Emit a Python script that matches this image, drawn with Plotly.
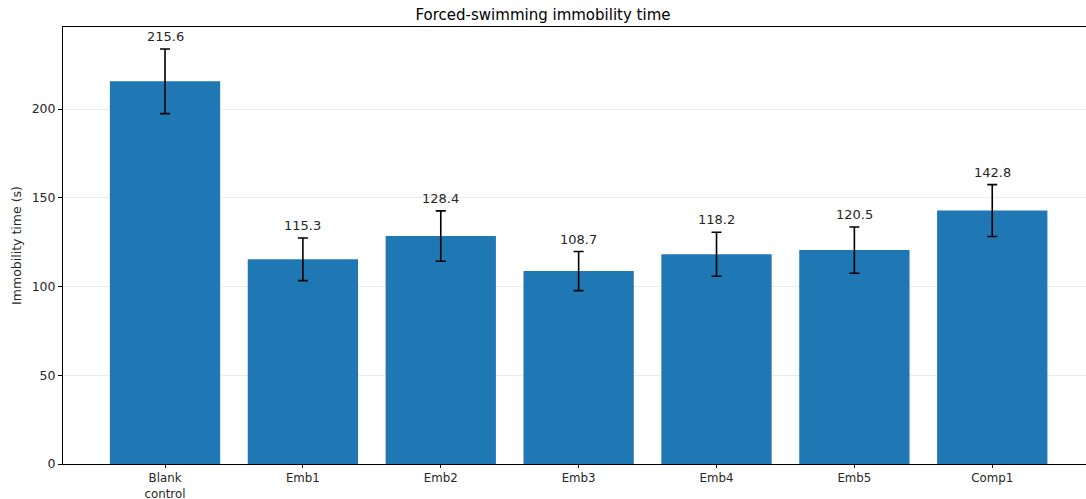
import plotly.graph_objects as go

categories = ["Blank<br>control", "Emb1", "Emb2", "Emb3", "Emb4", "Emb5", "Comp1"]
means = [215.6, 115.3, 128.4, 108.7, 118.2, 120.5, 142.8]
errors = [18.2, 12.0, 14.2, 11.0, 12.4, 13.0, 14.6]
labels = ["215.6", "115.3", "128.4", "108.7", "118.2", "120.5", "142.8"]
yticks = [0, 50, 100, 150, 200]

xpos = list(range(len(categories)))
FONT = "DejaVu Sans"

fig = go.Figure()
fig.add_trace(go.Bar(
    x=xpos, y=means, width=0.8,
    marker=dict(color="#1f77b4", line=dict(width=0)),
    error_y=dict(type="data", array=errors, visible=True, color="black",
                 thickness=1.6, width=5),
    showlegend=False,
))

for x, m, e, t in zip(xpos, means, errors, labels):
    fig.add_annotation(x=x, y=m + e, text=t, showarrow=False,
                       yanchor="bottom", yshift=3,
                       font=dict(family=FONT, size=13, color="#262626"))

fig.update_layout(
    width=1086, height=499,
    margin=dict(l=63, r=0, t=27, b=35, autoexpand=False),
    paper_bgcolor="white", plot_bgcolor="white",
    font=dict(family=FONT, size=12, color="#262626"),
    title=dict(text="Forced-swimming immobility time", x=0.5, xanchor="center",
               y=1 - 15 / 499, yanchor="middle",
               font=dict(family=FONT, size=15, color="black")),
)
fig.update_xaxes(
    range=[-0.74, 6.68], tickmode="array", tickvals=xpos, ticktext=categories,
    showgrid=False, showline=True, linecolor="black", linewidth=1, mirror=True,
    ticks="outside", ticklen=3, tickcolor="black", automargin=False,
    tickfont=dict(family=FONT, size=11.8, color="#262626"), zeroline=False,
)
fig.update_yaxes(
    range=[0, 246.2], tickmode="array", tickvals=yticks,
    showgrid=True, gridcolor="rgba(0,0,0,0.08)", gridwidth=1,
    showline=True, linecolor="black", linewidth=1, mirror=True,
    ticks="outside", ticklen=4, tickcolor="black", automargin=False,
    tickfont=dict(family=FONT, size=12.5, color="#262626"), zeroline=False,
    title=dict(text="Immobility time (s)", standoff=7,
               font=dict(family=FONT, size=12.5, color="#262626")),
)

fig.write_html("out.html", config={"displayModeBar": False},
               post_script="document.body.style.margin='0';document.body.style.padding='0';")
